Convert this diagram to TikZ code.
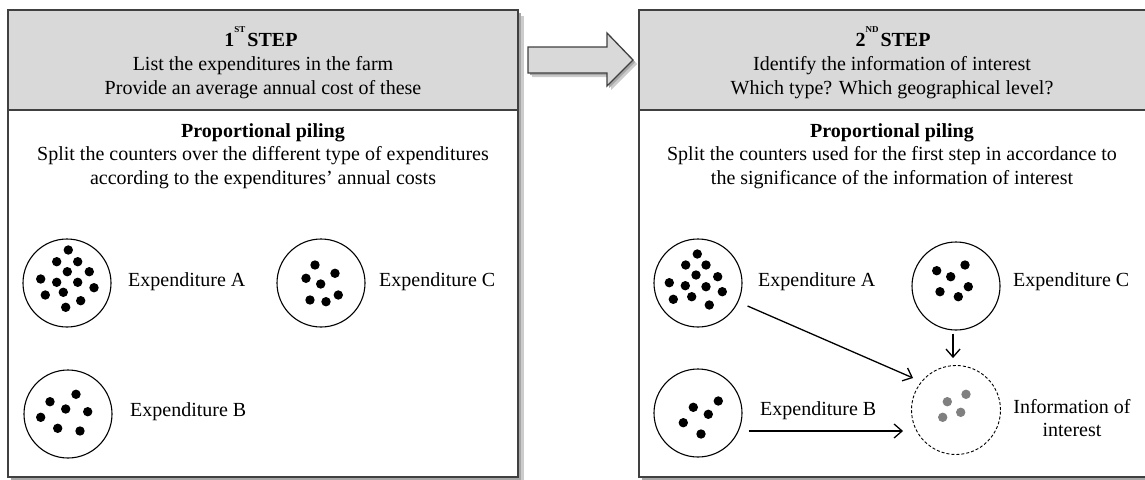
\documentclass[tikz,border=0pt]{standalone}
\usepackage{fontspec}
\setmainfont{Liberation Serif}
\usetikzlibrary{arrows.meta}
\definecolor{hdr}{HTML}{D9D9D9}
\definecolor{edgec}{HTML}{404040}
\definecolor{dotgray}{HTML}{808080}
\begin{document}
\begin{tikzpicture}[x=1pt,y=-1pt,
  txt/.style={font=\fontsize{20}{24}\selectfont, inner sep=0pt, anchor=base},
  ttl/.style={txt, font=\fontsize{20}{24}\selectfont\bfseries},
  lbl/.style={txt, anchor=base west},
  pile/.style={circle, draw=black, line width=1.1pt, minimum size=88pt, inner sep=0pt},
  infopile/.style={circle, draw=black, line width=0.9pt, dash pattern=on 3pt off 2pt, minimum size=89pt, inner sep=0pt},
  conn/.style={line width=1.3pt, -{Straight Barb[length=8pt,width=14pt,line width=1.3pt]}},
  panel/.style={draw=edgec, line width=1.5pt},
  shade1/.style={fill=black!20},
  shade2/.style={fill=black!35},
]
\useasboundingbox (0,0) rectangle (1145,479);
\clip (0,0) rectangle (1145,479);

% shadows
\fill[shade1] (14,16) rectangle (524,490);
\fill[shade2] (11,13) rectangle (521,490);
\fill[shade1] (645,16) rectangle (1160,490);
\fill[shade2] (642,13) rectangle (1160,490);
\fill[shade1] (532,51) -- (611,51) -- (611,37) -- (637,64) -- (611,90) -- (611,77) -- (532,77) -- cycle;
\fill[shade2] (530,49) -- (609,49) -- (609,35) -- (635,62) -- (609,88) -- (609,75) -- (530,75) -- cycle;

% panels
\filldraw[panel, fill=white] (8,10) rectangle (518,477);
\filldraw[panel, fill=hdr] (8,10) rectangle (518,110);
\filldraw[panel, fill=white] (639,10) rectangle (1155,477);
\filldraw[panel, fill=hdr] (639,10) rectangle (1155,110);

% block arrow
\filldraw[fill=hdr, draw=edgec, line width=1.3pt, line join=miter]
  (528,47) -- (607,47) -- (607,33) -- (633,60) -- (607,86) -- (607,73) -- (528,73) -- cycle;

% left panel texts
\node[ttl] (t1) at (261,46) {1\raisebox{14pt}{\fontsize{9}{9}\selectfont ST}\hspace{2pt}STEP};
\node[txt] (l1a) at (263,70) {List the expenditures in the farm};
\node[txt] (l1b) at (263,94) {Provide an average annual cost of these};
\node[ttl] (p1) at (263,137) {Proportional piling};
\node[txt] (s1a) at (263,160) {Split the counters over the different type of expenditures};
\node[txt] (s1b) at (263,184) {according to the expenditures’ annual costs};

% right panel texts
\node[ttl] (t2) at (893,46) {2\raisebox{14pt}{\fontsize{9}{9}\selectfont ND}\hspace{2pt}STEP};
\node[txt] (l2a) at (892,70) {Identify the information of interest};
\node[txt] (l2b) at (892,94) {Which type? Which geographical level?};
\node[ttl] (p2) at (892,137) {Proportional piling};
\node[txt] (s2a) at (892,160) {Split the counters used for the first step in accordance to};
\node[txt] (s2b) at (892,184) {the significance of the information of interest};

% left piles
\node[pile] (lA) at (67,283) {};
\node[pile] (lB) at (68,414) {};
\node[pile] (lC) at (321,283) {};
\node[lbl] (lAt) at (128,286) {Expenditure A};
\node[lbl] (lBt) at (130,416) {Expenditure B};
\node[lbl] (lCt) at (379,286) {Expenditure C};

\foreach \dx/\dy in {1.3/-33, -10.3/-21.3, 10.7/-21.3, 0.3/-11.3, 22.3/-11.3, -26.3/-4, -10.3/-0.7, 10.7/-0.7, 27/4.7, -21.7/12, -3.7/9.3, 13.7/17.7, -1.3/24.3}
  \fill ([shift={(\dx,\dy)}]lA.center) circle[radius=4.7pt];
\foreach \dx/\dy in {8/-19.7, -18/-12.3, -2.3/-5, 19.7/-2.3, -27.3/3.3, -10.3/14.3, 12/17}
  \fill ([shift={(\dx,\dy)}]lB.center) circle[radius=4.7pt];
\foreach \dx/\dy in {-6/-18, 14/-9.7, -15/-4.7, -0.3/1, 17.3/12, -11/17, 5/18.7}
  \fill ([shift={(\dx,\dy)}]lC.center) circle[radius=4.7pt];

% right piles
\node[pile] (rA) at (698,283) {};
\node[pile] (rB) at (698,413) {};
\node[pile] (rC) at (956,286) {};
\node[infopile] (info) at (956,410) {};
\node[lbl] (rAt) at (758,286) {Expenditure A};
\node[lbl] (rBt) at (760,415) {Expenditure B};
\node[lbl] (rCt) at (1013,286) {Expenditure C};
\node[txt] (it1) at (1072,413) {Information of};
\node[txt] (it2) at (1072,436) {interest};

\foreach \dx/\dy in {-0.7/-29, -12.3/-18, 8/-18, -2/-8, 19.7/-6.3, -28.7/-0.3, -12.7/2.7, 8/3.7, 24.3/8.7, -24.7/16.3, -6.3/13.7, 11.3/22}
  \fill ([shift={(\dx,\dy)}]rA.center) circle[radius=4.7pt];
\foreach \dx/\dy in {20.3/-12, -4.7/-5.7, 10.3/1.3, -14.7/9.7, 3/21}
  \fill ([shift={(\dx,\dy)}]rB.center) circle[radius=4.7pt];
\foreach \dx/\dy in {9/-21, -19.3/-15.3, -5.3/-9.3, 12.3/0.7, -16/5.7, 2.3/10.7}
  \fill ([shift={(\dx,\dy)}]rC.center) circle[radius=4.7pt];
\foreach \dx/\dy in {10/-15.7, -8.7/-8.3, 4.7/2.3, -13.3/7.3}
  \fill[dotgray] ([shift={(\dx,\dy)}]info.center) circle[radius=4.7pt];

% connectors
\draw[conn] ([shift={(5,23)}]rA.east) -- ([shift={(2,-32)}]info.west);
\draw[conn] ([shift={(6,18)}]rB.east) -- ([shift={(-8,21)}]info.west);
\draw[conn] ([shift={(-3,3)}]rC.south) -- ([shift={(-3,-7)}]info.north);
\end{tikzpicture}
\end{document}
